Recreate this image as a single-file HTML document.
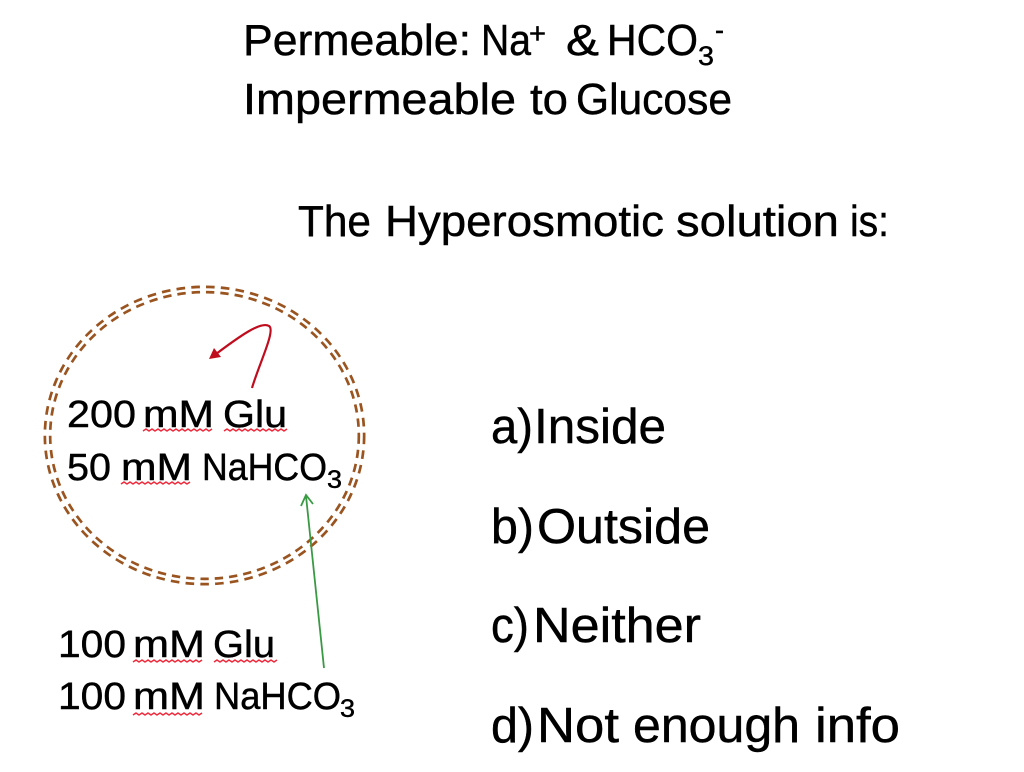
<!DOCTYPE html>
<html><head><meta charset="utf-8"><style>
html,body{margin:0;padding:0;background:#fff}
svg{display:block}
text{font-family:"Liberation Sans",sans-serif;fill:#000;stroke:#000;stroke-width:.45px}
.t{font-size:44px}.o{font-size:49px}.s{font-size:38px}
</style></head><body>
<svg width="1024" height="772" viewBox="0 0 1024 772" xmlns="http://www.w3.org/2000/svg">
<rect width="1024" height="772" fill="#fff"/>
<text class="t" x="243" y="55" textLength="228" lengthAdjust="spacingAndGlyphs">Permeable:</text>
<text class="t" x="481" y="55" textLength="50" lengthAdjust="spacingAndGlyphs">Na</text>
<text x="529" y="43" font-size="29" textLength="17" lengthAdjust="spacingAndGlyphs">+</text>
<text class="t" x="566" y="55" textLength="33" lengthAdjust="spacingAndGlyphs">&amp;</text>
<text class="t" x="607" y="55" textLength="91" lengthAdjust="spacingAndGlyphs">HCO</text>
<text x="698" y="65" font-size="27" textLength="16" lengthAdjust="spacingAndGlyphs">3</text>
<text x="715" y="39" font-size="27" textLength="9" lengthAdjust="spacingAndGlyphs">-</text>
<text class="t" x="243" y="114" textLength="273" lengthAdjust="spacingAndGlyphs">Impermeable</text>
<text class="t" x="530" y="114" textLength="38" lengthAdjust="spacingAndGlyphs">to</text>
<text class="t" x="576" y="114" textLength="156" lengthAdjust="spacingAndGlyphs">Glucose</text>
<text class="t" x="298" y="236" textLength="73" lengthAdjust="spacingAndGlyphs">The</text>
<text class="t" x="385" y="236" textLength="279" lengthAdjust="spacingAndGlyphs">Hyperosmotic</text>
<text class="t" x="676" y="236" textLength="163" lengthAdjust="spacingAndGlyphs">solution</text>
<text class="t" x="850" y="236" textLength="39" lengthAdjust="spacingAndGlyphs">is:</text>
<text class="o" x="491" y="443" textLength="42" lengthAdjust="spacingAndGlyphs">a)</text>
<text class="o" x="534" y="443" textLength="132" lengthAdjust="spacingAndGlyphs">Inside</text>
<text class="o" x="491" y="543" textLength="43" lengthAdjust="spacingAndGlyphs">b)</text>
<text class="o" x="537" y="543" textLength="173" lengthAdjust="spacingAndGlyphs">Outside</text>
<text class="o" x="491" y="642" textLength="38" lengthAdjust="spacingAndGlyphs">c)</text>
<text class="o" x="533" y="642" textLength="168" lengthAdjust="spacingAndGlyphs">Neither</text>
<text class="o" x="491" y="742" textLength="43" lengthAdjust="spacingAndGlyphs">d)</text>
<text class="o" x="537" y="742" textLength="82" lengthAdjust="spacingAndGlyphs">Not</text>
<text class="o" x="633" y="742" textLength="167" lengthAdjust="spacingAndGlyphs">enough</text>
<text class="o" x="815" y="742" textLength="85" lengthAdjust="spacingAndGlyphs">info</text>
<ellipse cx="204.5" cy="435.5" rx="157" ry="146" fill="none" stroke="#9a5420" stroke-width="8" stroke-dasharray="8.5 6.1"/>
<ellipse cx="204.5" cy="435.5" rx="157" ry="146" fill="none" stroke="#fff" stroke-width="2.6"/>
<text class="s" x="67" y="427" textLength="69" lengthAdjust="spacingAndGlyphs">200</text>
<text class="s" x="143" y="427" textLength="71" lengthAdjust="spacingAndGlyphs">mM</text>
<text class="s" x="223" y="427" textLength="64" lengthAdjust="spacingAndGlyphs">Glu</text>
<text class="s" x="67" y="480" textLength="44" lengthAdjust="spacingAndGlyphs">50</text>
<text class="s" x="121" y="480" textLength="71" lengthAdjust="spacingAndGlyphs">mM</text>
<text class="s" x="202" y="480" textLength="125" lengthAdjust="spacingAndGlyphs">NaHCO</text>
<text x="327" y="488" font-size="25" textLength="15" lengthAdjust="spacingAndGlyphs">3</text>
<text class="s" x="58" y="657" textLength="68" lengthAdjust="spacingAndGlyphs">100</text>
<text class="s" x="133" y="657" textLength="72" lengthAdjust="spacingAndGlyphs">mM</text>
<text class="s" x="213" y="657" textLength="62" lengthAdjust="spacingAndGlyphs">Glu</text>
<text class="s" x="58" y="709" textLength="68" lengthAdjust="spacingAndGlyphs">100</text>
<text class="s" x="133" y="709" textLength="72" lengthAdjust="spacingAndGlyphs">mM</text>
<text class="s" x="214" y="709" textLength="127" lengthAdjust="spacingAndGlyphs">NaHCO</text>
<text x="340" y="717" font-size="25" textLength="15" lengthAdjust="spacingAndGlyphs">3</text>
<g fill="none" stroke="#ee2a3c" stroke-width="1.5">
<path d="M143 431 l3 -2 3 2 3 -2 3 2 3 -2 3 2 3 -2 3 2 3 -2 3 2 3 -2 3 2 3 -2 3 2 3 -2 3 2 3 -2 3 2 3 -2 3 2 3 -2 3 2 3 -2"/>
<path d="M224 431 l3 -2 3 2 3 -2 3 2 3 -2 3 2 3 -2 3 2 3 -2 3 2 3 -2 3 2 3 -2 3 2 3 -2 3 2 3 -2 3 2 3 -2 3 2 3 -2"/>
<path d="M121 484 l3 -2 3 2 3 -2 3 2 3 -2 3 2 3 -2 3 2 3 -2 3 2 3 -2 3 2 3 -2 3 2 3 -2 3 2 3 -2 3 2 3 -2 3 2 3 -2 3 2 3 -2"/>
<path d="M133 662 l3 -2 3 2 3 -2 3 2 3 -2 3 2 3 -2 3 2 3 -2 3 2 3 -2 3 2 3 -2 3 2 3 -2 3 2 3 -2 3 2 3 -2 3 2 3 -2 3 2 3 -2"/>
<path d="M214 662 l3 -2 3 2 3 -2 3 2 3 -2 3 2 3 -2 3 2 3 -2 3 2 3 -2 3 2 3 -2 3 2 3 -2 3 2 3 -2 3 2 3 -2 3 2 3 -2"/>
<path d="M133 715 l3 -2 3 2 3 -2 3 2 3 -2 3 2 3 -2 3 2 3 -2 3 2 3 -2 3 2 3 -2 3 2 3 -2 3 2 3 -2 3 2 3 -2 3 2 3 -2 3 2 3 -2"/>
</g>
<path d="M252 388 C259 364 276 330 269 326 C261 321 240 336 216 354" fill="none" stroke="#c00d1e" stroke-width="2.2"/>
<path d="M209 359 L221 357 L214 348 Z" fill="#c00d1e"/>
<path d="M324 668 L306 496" fill="none" stroke="#3a9a44" stroke-width="1.8"/>
<path d="M301 506 L306 495 L313 504" fill="none" stroke="#3a9a44" stroke-width="1.8"/>
</svg>
</body></html>
